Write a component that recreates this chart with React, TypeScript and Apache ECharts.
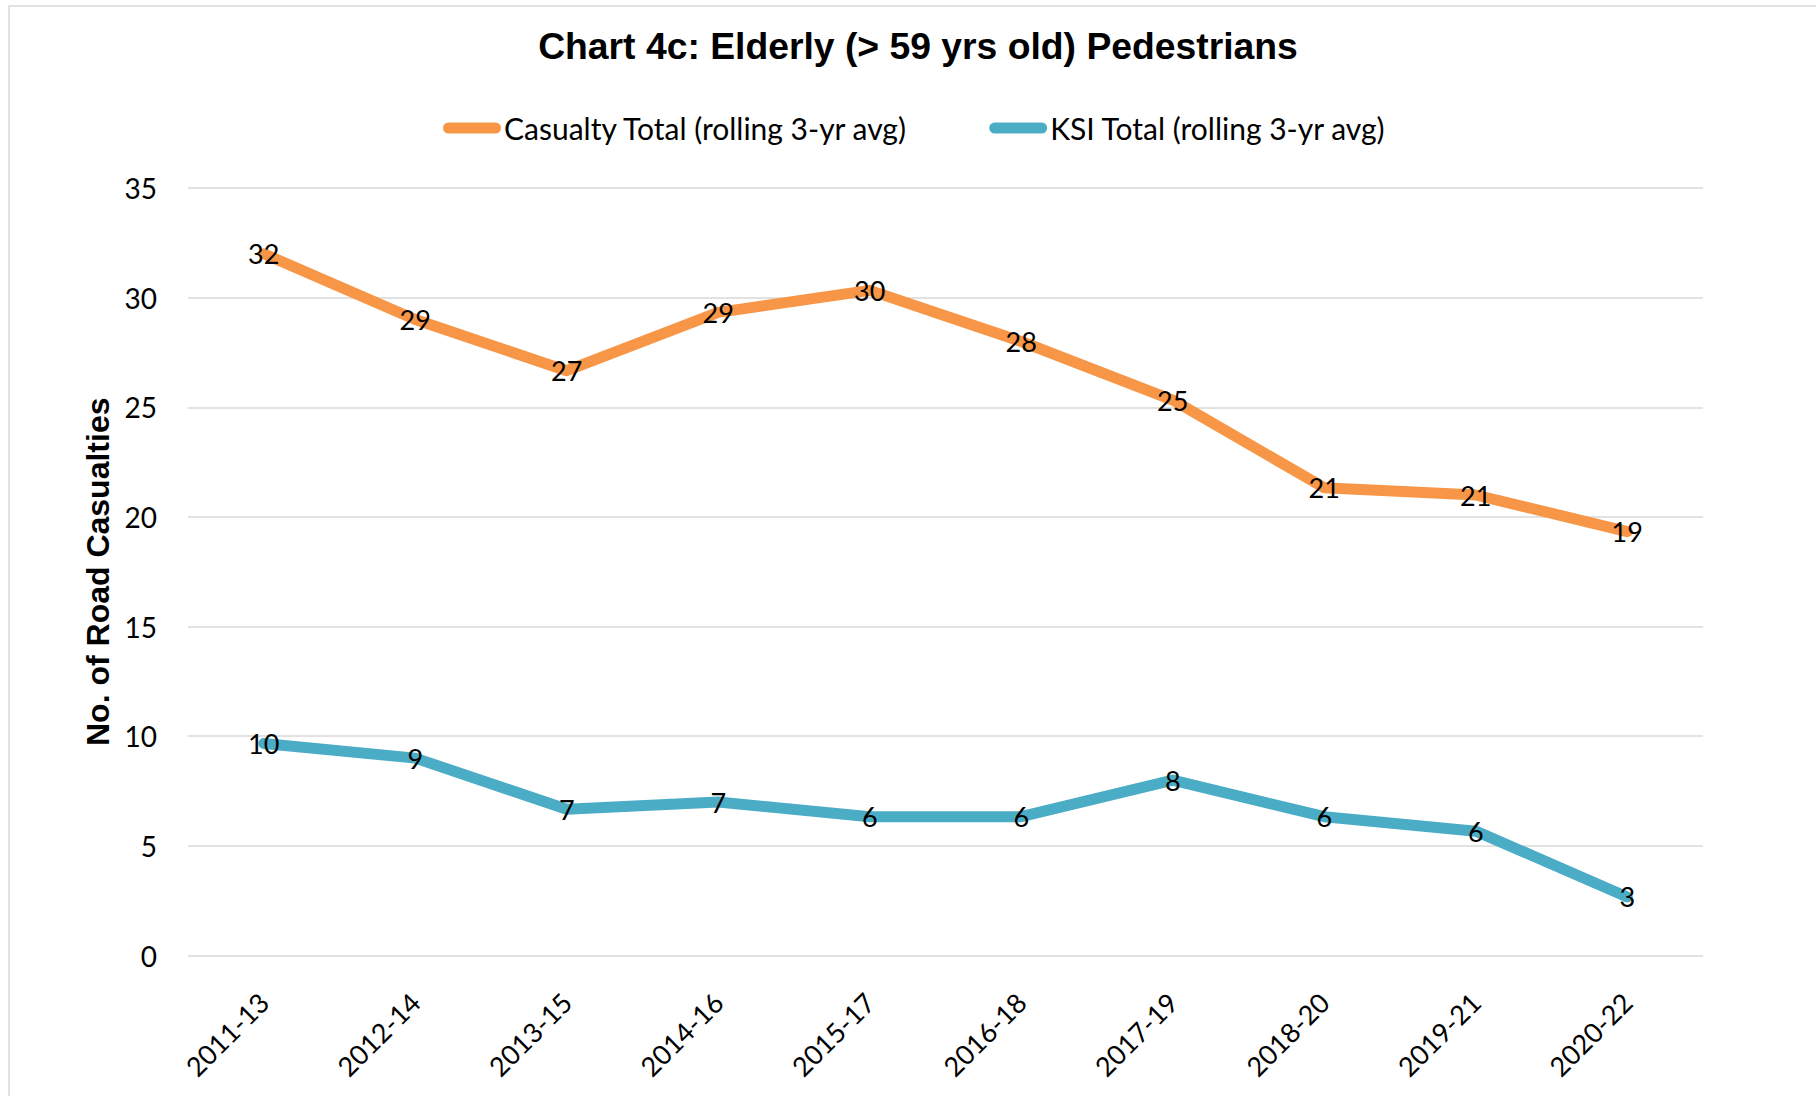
import React, { useEffect, useRef } from "react";
import * as echarts from "echarts";

const categories = [
  "2011-13", "2012-14", "2013-15", "2014-16", "2015-17",
  "2016-18", "2017-19", "2018-20", "2019-21", "2020-22",
];
const casualtyTotal = [32.0, 29.0, 26.67, 29.33, 30.33, 28.0, 25.33, 21.33, 21.0, 19.33];
const ksiTotal = [9.67, 9.0, 6.67, 7.0, 6.33, 6.33, 8.0, 6.33, 5.67, 2.67];
const yTicks = { min: 0, max: 35, interval: 5 };

const seriesNames = ["Casualty Total (rolling 3-yr avg)", "KSI Total (rolling 3-yr avg)"];
const seriesColors = ["#F79646", "#4BACC6"];

const LABEL_FONT = "Lato";
const pill = "path://M5.5,0H52.5A5.5,5.5,0,0,1,52.5,11H5.5A5.5,5.5,0,0,1,5.5,0Z";

export default function App() {
  const ref = useRef<HTMLDivElement>(null);
  useEffect(() => {
    if (!ref.current) return;
    const chart = echarts.init(ref.current, null, { renderer: "svg" });
    const mkSeries = (name: string, data: number[], color: string) => ({
      name,
      type: "line",
      data,
      symbol: "circle",
      symbolSize: 1,
      showSymbol: true,
      itemStyle: { color },
      lineStyle: { color, width: 11, cap: "round", join: "round" },
      label: {
        show: true,
        position: "inside",
        color: "#000",
        fontFamily: LABEL_FONT,
        fontSize: 27,
        formatter: (p: any) => String(Math.round(p.value)),
      },
      emphasis: { disabled: true },
    });
    chart.setOption({
      animation: false,
      backgroundColor: "#fff",
      title: {
        text: "Chart 4c: Elderly (> 59 yrs old) Pedestrians",
        left: 913,
        textAlign: "center",
        top: 22,
        textStyle: {
          fontFamily: "Liberation Sans",
          fontWeight: "bold",
          fontSize: 37.3,
          color: "#000",
        },
      },
      legend: {
        left: 438,
        top: 108,
        itemWidth: 58,
        itemHeight: 11,
        itemGap: 81,
        icon: pill,
        textStyle: { fontFamily: LABEL_FONT, fontSize: 30, color: "#000", padding: [0, 0, 0, -2] },
        data: seriesNames,
      },
      grid: { left: 188, top: 188, width: 1515, height: 767.5, containLabel: false },
      xAxis: {
        type: "category",
        data: categories,
        boundaryGap: true,
        axisLine: { show: false },
        axisTick: { show: false },
        axisLabel: {
          rotate: 45,
          margin: 42,
          color: "#000",
          fontFamily: LABEL_FONT,
          fontSize: 27,
          interval: 0,
        },
      },
      yAxis: {
        type: "value",
        min: yTicks.min,
        max: yTicks.max,
        interval: yTicks.interval,
        name: "No. of Road Casualties",
        nameLocation: "middle",
        nameRotate: 90,
        nameGap: 74,
        nameTextStyle: {
          fontFamily: "Liberation Sans",
          fontWeight: "bold",
          fontSize: 32,
          color: "#000",
        },
        axisLine: { show: false },
        axisTick: { show: false },
        axisLabel: { margin: 31, color: "#000", fontFamily: LABEL_FONT, fontSize: 28 },
        splitLine: { lineStyle: { color: "#d9d9d9", width: 1.5 } },
      },
      graphic: [
        {
          type: "rect",
          shape: { x: 9, y: 6, width: 1900, height: 1200 },
          style: { fill: "none", stroke: "#d9d9d9", lineWidth: 1.5 },
          silent: true,
        },
      ],
      series: [
        mkSeries(seriesNames[0], casualtyTotal, seriesColors[0]),
        mkSeries(seriesNames[1], ksiTotal, seriesColors[1]),
      ],
    });
    return () => chart.dispose();
  }, []);
  return (
    <div
      ref={ref}
      style={{ position: "fixed", left: 0, top: 0, width: 1816, height: 1096, overflow: "hidden" }}
    />
  );
}
